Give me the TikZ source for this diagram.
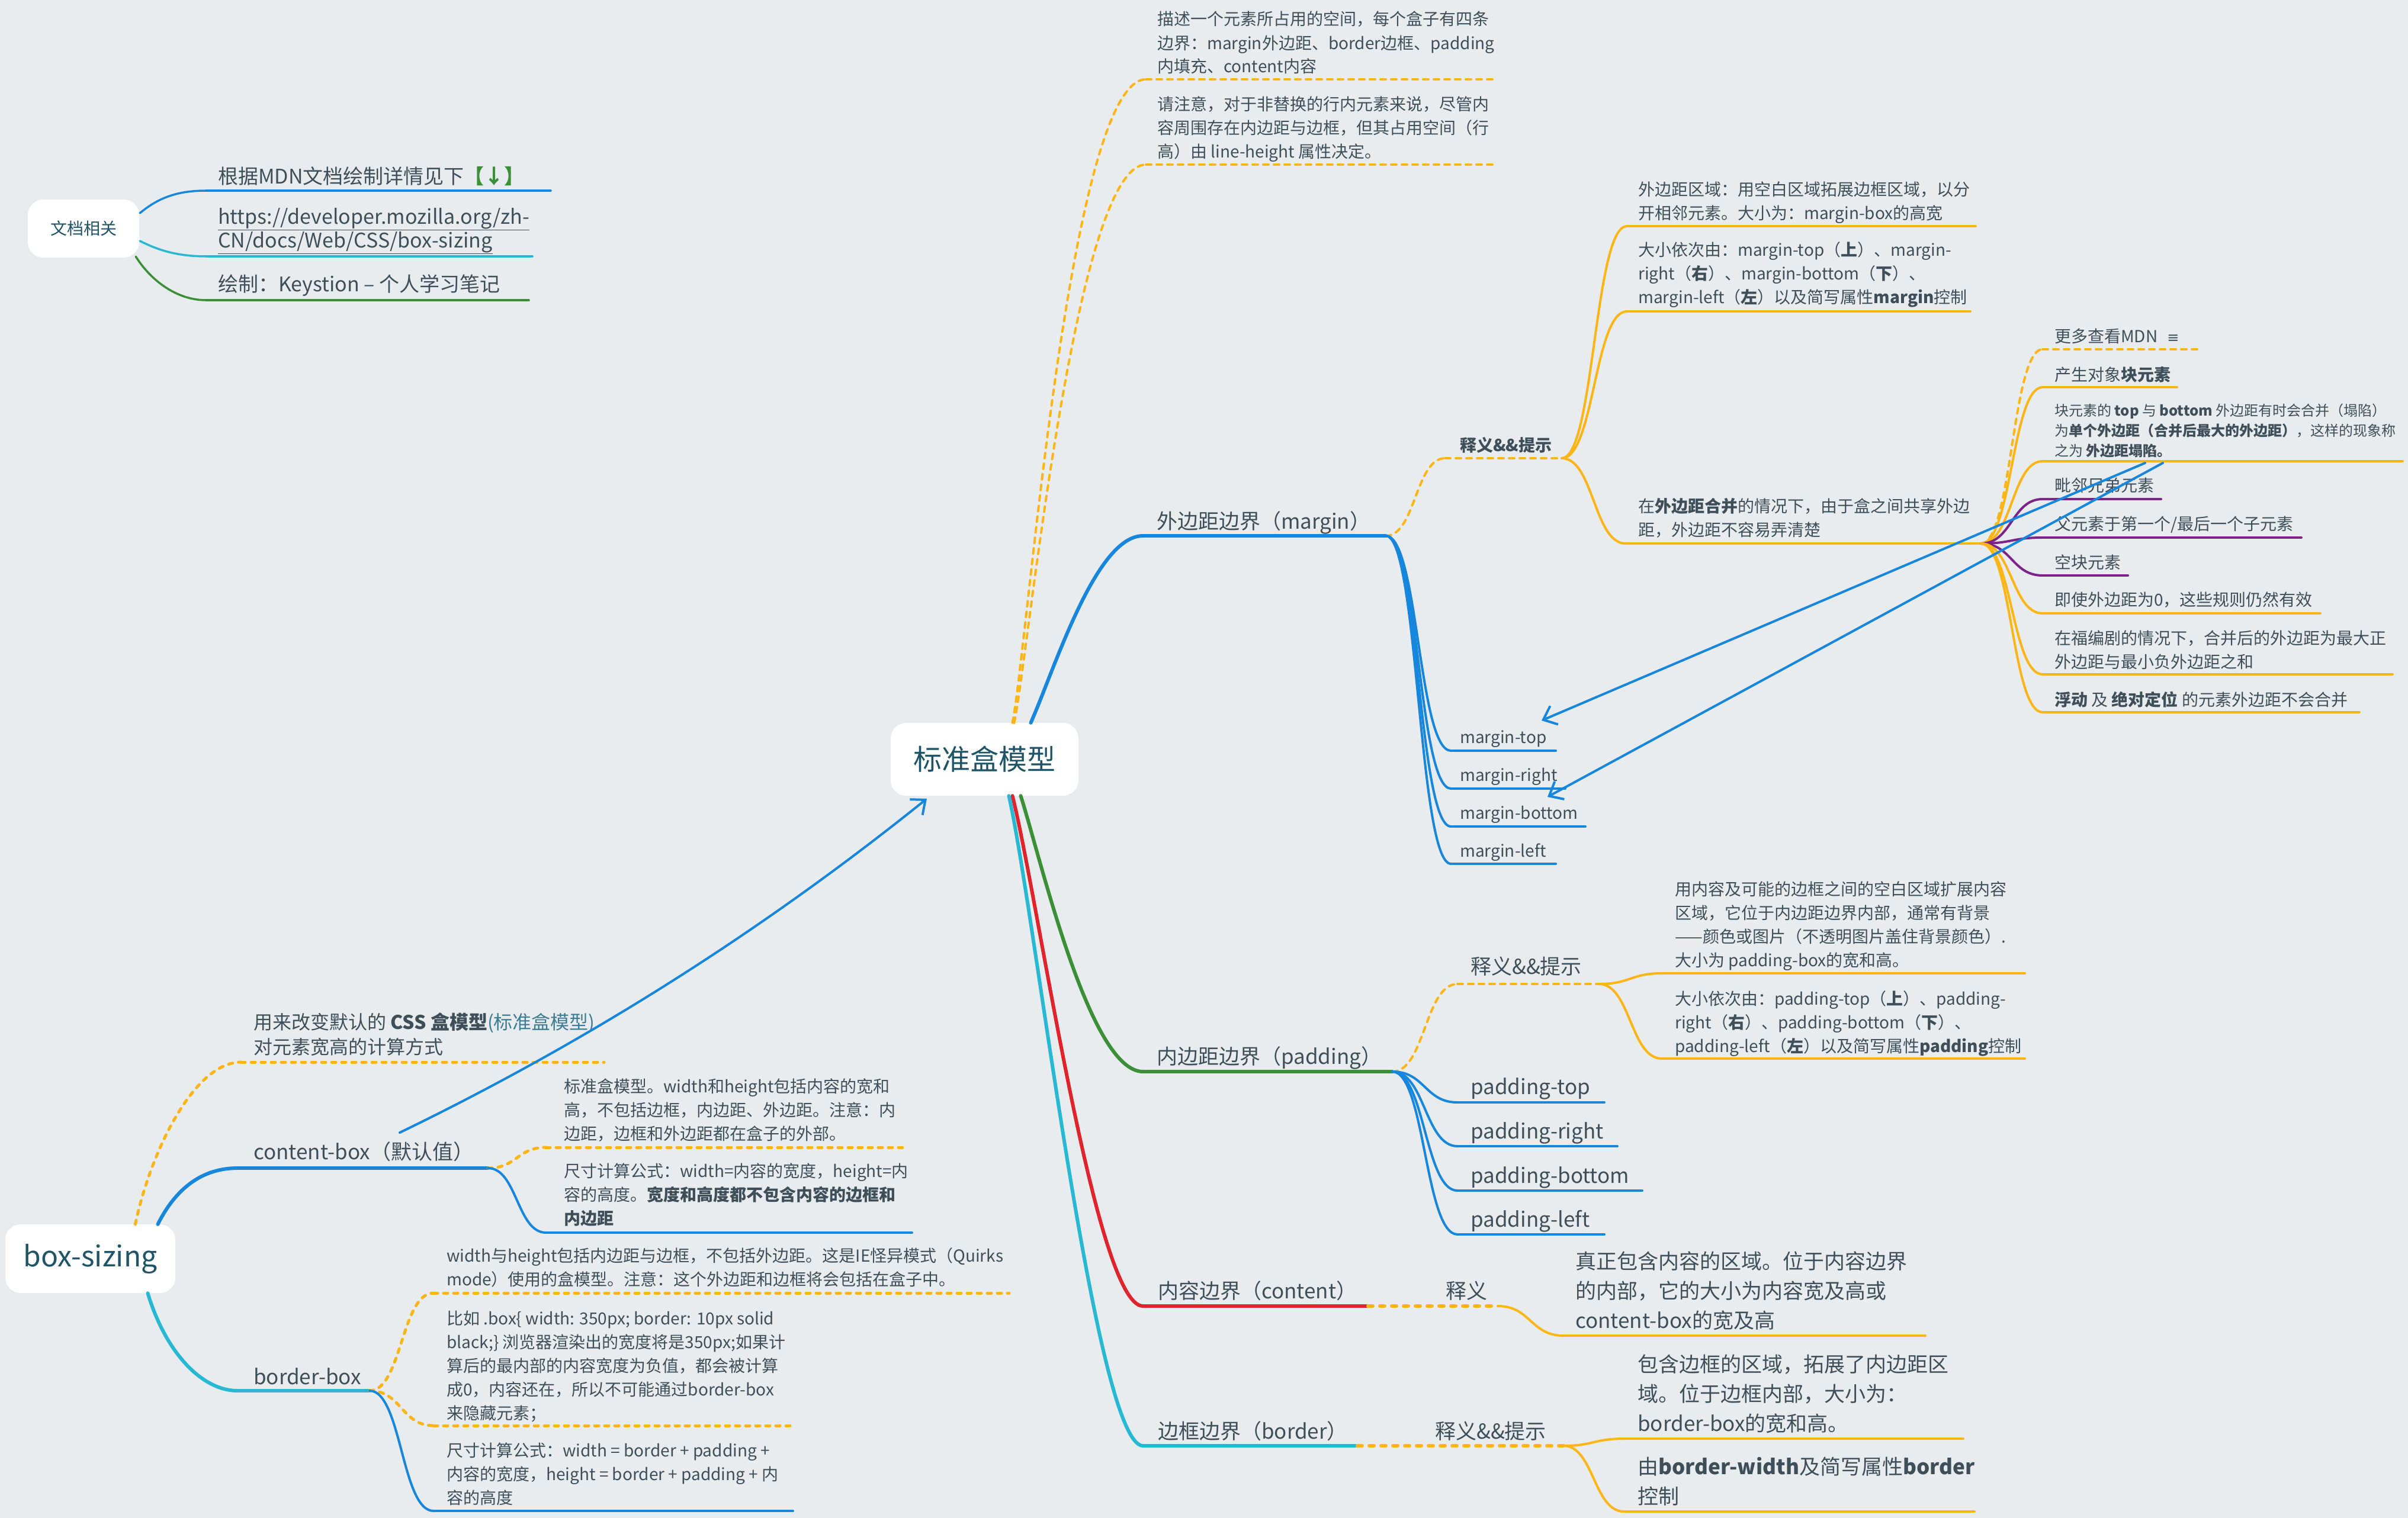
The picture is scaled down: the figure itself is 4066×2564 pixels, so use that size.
\documentclass[tikz,border=0pt]{standalone}
\usepackage{fontspec}
\setmainfont{Noto Sans CJK SC}
\newfontfamily\dejavu{DejaVu Sans}
\usetikzlibrary{arrows.meta,calc}
\definecolor{bgc}{HTML}{E8ECEF}
\definecolor{tc}{HTML}{3F4F5A}
\definecolor{hc}{HTML}{1F5366}
\definecolor{org}{HTML}{FDB515}
\definecolor{blu}{HTML}{1787DD}
\definecolor{cyn}{HTML}{27B9D3}
\definecolor{grn}{HTML}{3A8F37}
\definecolor{rd}{HTML}{E1242B}
\definecolor{pur}{HTML}{7C2488}
\definecolor{lnk}{HTML}{3C7D96}
\newcommand\ml[1]{\begin{tabular}[t]{@{}l@{}}#1\end{tabular}}
\newcommand\sconn[3]{\draw[#1] let \p1=(#2), \p2=(#3) in (\p1) .. controls ({(\x1+\x2)/2},\y1) and ({(\x1+\x2)/2},\y2) .. (\p2);}
\newcommand\bconn[5]{\draw[#1] (#2) .. controls ($(#2)+(#4)$) and ($(#3)+(#5)$) .. (#3);}
\newcommand\tp[8]{%
  \coordinate (#1-s) at (#3,#5);
  \coordinate (#1-e) at (#4,#5);
  \draw[#2] (#1-s) -- (#1-e);
  \node[txt,#6] (#1) at (#7) {#8};
}
\tikzset{
  txt/.style={anchor=base west, inner sep=0pt, text=tc},
  f24/.style={font=\fontsize{24}{34}\selectfont},
  f28/.style={font=\fontsize{28}{40}\selectfont},
  f32/.style={font=\fontsize{32}{42}\selectfont},
  f34/.style={font=\fontsize{34}{40}\selectfont},
  f36/.style={font=\fontsize{35}{50}\selectfont},
  thinA/.style={line width=3.5pt, line cap=round},
  br/.style={line width=6pt, line cap=round},
  sb/.style={line width=4pt, line cap=round},
  dsh/.style={line width=4pt, dash pattern=on 9pt off 9pt, line cap=round},
  dotA/.style={line width=6pt, dash pattern=on 8pt off 12pt, line cap=round},
  dotB/.style={line width=5pt, dash pattern=on 7pt off 10pt, line cap=round},
  rel/.style={line width=4pt, line cap=round, -{Straight Barb[length=20pt,width=34pt]}},
  root/.style={fill=white, rounded corners=26pt, inner sep=0pt, text=hc}
}
\begin{document}
\begin{tikzpicture}[x=1pt,y=-1pt]
\fill[bgc] (0,0) rectangle (4066,2564);
\useasboundingbox (0,0) rectangle (4066,2564);

% root boxes
\node[root, minimum width=317pt, minimum height=123pt, font=\fontsize{48}{48}\selectfont] (c) at (1662.5,1282.5) {标准盒模型};
\node[root, minimum width=287pt, minimum height=116pt, font=\fontsize{48}{48}\selectfont] (bs) at (152.5,2126) {box-sizing};
\node[root, minimum width=188pt, minimum height=98pt, font=\fontsize{28}{28}\selectfont] (wd) at (141,386) {文档相关};
\coordinate (cN1) at ($(c.north)+(47,0)$);
\coordinate (cN2) at ($(c.north)+(50,0)$);
\coordinate (cN3) at ($(c.north)+(78,0)$);
\coordinate (cS1) at ($(c.south)+(61,0)$);
\coordinate (cS2) at ($(c.south)+(47,0)$);
\coordinate (cS3) at ($(c.south)+(41,0)$);
\coordinate (wE1) at ($(wd.east)+(1,-26)$);
\coordinate (wE2) at ($(wd.east)+(1,21)$);
\coordinate (wE3) at ($(wd.south east)+(-6,-2)$);
\coordinate (bN1) at ($(bs.north)+(76,0)$);
\coordinate (bN2) at ($(bs.north)+(114,0)$);
\coordinate (bS1) at ($(bs.south)+(97,0)$);

% 文档相关
\tp{d1}{blu,thinA}{348}{930}{322}{f34}{368,310}{根据MDN文档绘制详情见下\textcolor{grn}{\bfseries【↓】}}
\tp{d2}{cyn,thinA}{348}{899}{433}{f34}{368,378}{\ml{\underline{https://developer.mozilla.org/zh-}\\\underline{CN/docs/Web/CSS/box-sizing}}}
\tp{d3}{grn,thinA}{348}{893}{507}{f34}{368,492}{绘制：Keystion – 个人学习笔记}
\bconn{blu,thinA}{wE1}{d1-s}{30,-25}{-50,0}
\bconn{cyn,thinA}{wE2}{d2-s}{30,15}{-50,0}
\bconn{grn,thinA}{wE3}{d3-s}{25,40}{-50,0}

% top notes
\tp{t1}{org,dsh}{1935}{2522}{134}{f28}{1954,43}{\ml{描述一个元素所占用的空间，每个盒子有四条\\边界：margin外边距、border边框、padding\\内填充、content内容}}
\tp{t2}{org,dsh}{1935}{2522}{278}{f28}{1954,186}{\ml{请注意，对于非替换的行内元素来说，尽管内\\容周围存在内边距与边框，但其占用空间（行\\高）由 line-height 属性决定。}}
\bconn{org,dsh}{cN1}{t1-s}{25,-120}{-130,0}
\bconn{org,dsh}{cN2}{t2-s}{25,-120}{-120,0}

% margin
\tp{m}{blu,br}{1930}{2340}{905}{f36}{1953,893}{外边距边界（margin）}
\bconn{blu,br}{cN3}{m-s}{40,-90}{-80,0}
\tp{msy}{org,dsh}{2440}{2637}{774}{f28}{2465,762}{\textbf{释义\&\&提示}}
\sconn{org,dsh}{m-e}{msy-s}
\tp{m1}{org,sb}{2747}{3336}{382}{f28}{2766,330}{\ml{外边距区域：用空白区域拓展边框区域，以分\\开相邻元素。大小为：margin-box的高宽}}
\tp{m2}{org,sb}{2747}{3327}{526}{f28}{2766,432}{\ml{大小依次由：margin-top（\textbf{上}）、margin-\\right（\textbf{右}）、margin-bottom（\textbf{下}）、\\margin-left（\textbf{左}）以及简写属性\textbf{margin}控制}}
\tp{m3}{org,sb}{2745}{3345}{918}{f28}{2766,865}{\ml{在\textbf{外边距合并}的情况下，由于盒之间共享外边\\距，外边距不容易弄清楚}}
\sconn{org,sb}{msy-e}{m1-s}
\sconn{org,sb}{msy-e}{m2-s}
\sconn{org,sb}{msy-e}{m3-s}
\tp{k1}{org,dsh}{3449}{3710}{590}{f28}{3469,578}{更多查看MDN\hspace{16pt}{\dejavu\fontsize{24}{24}\selectfont ≡}}
\tp{k2}{org,sb}{3449}{3676}{654}{f28}{3469,643}{产生对象\textbf{块元素}}
\tp{k3}{org,sb}{3449}{4057}{779}{f24}{3469,702}{\ml{块元素的 \textbf{top} 与 \textbf{bottom} 外边距有时会合并（塌陷）\\为\textbf{单个外边距（合并后最大的外边距）}，这样的现象称\\之为 \textbf{外边距塌陷。}}}
\tp{k4}{pur,sb}{3449}{3649}{843}{f28}{3469,830}{毗邻兄弟元素}
\tp{k5}{pur,sb}{3449}{3886}{908}{f28}{3469,895}{父元素于第一个/最后一个子元素}
\tp{k6}{pur,sb}{3449}{3593}{972}{f28}{3469,960}{空块元素}
\tp{k7}{org,sb}{3449}{3918}{1036}{f28}{3469,1023}{即使外边距为0，这些规则仍然有效}
\tp{k8}{org,sb}{3449}{4040}{1139}{f28}{3469,1088}{\ml{在福编剧的情况下，合并后的外边距为最大正\\外边距与最小负外边距之和}}
\tp{k9}{org,sb}{3449}{3984}{1203}{f28}{3469,1192}{\textbf{浮动} 及 \textbf{绝对定位} 的元素外边距不会合并}
\sconn{org,dsh}{m3-e}{k1-s}
\sconn{org,sb}{m3-e}{k2-s}
\sconn{org,sb}{m3-e}{k3-s}
\sconn{pur,sb}{m3-e}{k4-s}
\sconn{pur,sb}{m3-e}{k5-s}
\sconn{pur,sb}{m3-e}{k6-s}
\sconn{org,sb}{m3-e}{k7-s}
\sconn{org,sb}{m3-e}{k8-s}
\sconn{org,sb}{m3-e}{k9-s}
\tp{mt}{blu,sb}{2450}{2627}{1268}{f28}{2465,1255}{margin-top}
\tp{mr}{blu,sb}{2450}{2643}{1332}{f28}{2465,1319}{margin-right}
\tp{mb}{blu,sb}{2450}{2677}{1396}{f28}{2465,1383}{margin-bottom}
\tp{mlf}{blu,sb}{2450}{2627}{1459}{f28}{2465,1447}{margin-left}
\sconn{blu,sb}{m-e}{mt-s}
\sconn{blu,sb}{m-e}{mr-s}
\sconn{blu,sb}{m-e}{mb-s}
\sconn{blu,sb}{m-e}{mlf-s}
\coordinate (r1s) at (3622,782);
\coordinate (r2s) at (3652,782);
\coordinate (r1e) at (2603,1217);
\coordinate (r2e) at (2613,1346);
\draw[blu,rel] (r1s) -- (r1e);
\draw[blu,rel] (r2s) -- (r2e);

% padding
\tp{p}{grn,br}{1930}{2351}{1810}{f36}{1953,1797}{内边距边界（padding）}
\bconn{grn,br}{cS1}{p-s}{35,110}{-90,0}
\tp{psy}{org,dsh}{2461}{2700}{1662}{f36}{2483,1645}{释义\&\&提示}
\sconn{org,dsh}{p-e}{psy-s}
\tp{p1}{org,sb}{2806}{3419}{1644}{f28}{2828,1512}{\ml{用内容及可能的边框之间的空白区域扩展内容\\区域，它位于内边距边界内部，通常有背景\\——颜色或图片（不透明图片盖住背景颜色）.\\大小为 padding-box的宽和高。}}
\tp{p2}{org,sb}{2806}{3419}{1788}{f28}{2828,1697}{\ml{大小依次由：padding-top（\textbf{上}）、padding-\\right（\textbf{右}）、padding-bottom（\textbf{下}）、\\padding-left（\textbf{左}）以及简写属性\textbf{padding}控制}}
\sconn{org,sb}{psy-e}{p1-s}
\sconn{org,sb}{psy-e}{p2-s}
\tp{pt}{blu,sb}{2461}{2709}{1862}{f36}{2483,1848}{padding-top}
\tp{pr}{blu,sb}{2461}{2731}{1936}{f36}{2483,1923}{padding-right}
\tp{pb}{blu,sb}{2461}{2773}{2011}{f36}{2483,1998}{padding-bottom}
\tp{plf}{blu,sb}{2461}{2709}{2085}{f36}{2483,2072}{padding-left}
\sconn{blu,sb}{p-e}{pt-s}
\sconn{blu,sb}{p-e}{pr-s}
\sconn{blu,sb}{p-e}{pb-s}
\sconn{blu,sb}{p-e}{plf-s}

% content
\tp{ct}{rd,br}{1930}{2307}{2206}{f36}{1955,2193}{内容边界（content）}
\bconn{rd,br}{cS2}{ct-s}{45,180}{-80,0}
\tp{csy}{org,dotA}{2310}{2529}{2206}{f36}{2441,2193}{释义}
\tp{c1}{org,sb}{2640}{3251}{2256}{f36}{2660,2143}{\ml{真正包含内容的区域。位于内容边界\\的内部，它的大小为内容宽及高或\\content-box的宽及高}}
\sconn{org,sb}{csy-e}{c1-s}

% border
\tp{bd}{cyn,br}{1930}{2289}{2442}{f36}{1955,2430}{边框边界（border）}
\bconn{cyn,br}{cS3}{bd-s}{45,200}{-80,0}
\tp{bsy}{org,dotA}{2292}{2640}{2442}{f36}{2423,2430}{释义\&\&提示}
\tp{b1}{org,sb}{2742}{3315}{2430}{f36}{2765,2317}{\ml{包含边框的区域，拓展了内边距区\\域。位于边框内部，大小为：\\border-box的宽和高。}}
\tp{b2}{org,sb}{2742}{3334}{2553}{f36}{2765,2490}{\ml{由\textbf{border-width}及简写属性\textbf{border}\\控制}}
\sconn{org,sb}{bsy-e}{b1-s}
\sconn{org,sb}{bsy-e}{b2-s}

% left tree
\tp{n1}{org,dotB}{407}{1020}{1794}{f32}{428,1738}{\ml{用来改变默认的 \textbf{CSS 盒模型}\textcolor{lnk}{(标准盒模型)}\\对元素宽高的计算方式}}
\tp{cb}{blu,br}{401}{824}{1973}{f36}{428,1958}{content-box（默认值）}
\tp{bb}{cyn,br}{401}{624}{2349}{f36}{428,2338}{border-box}
\bconn{org,dotB}{bN1}{n1-s}{25,-120}{-80,0}
\bconn{blu,br}{bN2}{cb-s}{30,-60}{-60,0}
\bconn{cyn,br}{bS1}{bb-s}{30,100}{-60,0}
\tp{cb1}{org,dotB}{922}{1524}{1938}{f28}{952,1845}{\ml{标准盒模型。width和height包括内容的宽和\\高，不包括边框，内边距、外边距。注意：内\\边距，边框和外边距都在盒子的外部。}}
\tp{cb2}{blu,sb}{922}{1540}{2082}{f28}{952,1988}{\ml{尺寸计算公式：width=内容的宽度，height=内\\容的高度。\textbf{宽度和高度都不包含内容的边框和}\\\textbf{内边距}}}
\sconn{org,dotB}{cb-e}{cb1-s}
\sconn{blu,sb}{cb-e}{cb2-s}
\tp{bb1}{org,dotB}{732}{1704}{2184}{f28}{754,2131}{\ml{width与height包括内边距与边框，不包括外边距。这是IE怪异模式（Quirks\\mode）使用的盒模型。注意：这个外边距和边框将会包括在盒子中。}}
\tp{bb2}{org,dotB}{732}{1334}{2408}{f28}{754,2237}{\ml{比如 .box\{ width: 350px; border: 10px solid\\black;\} 浏览器渲染出的宽度将是350px;如果计\\算后的最内部的内容宽度为负值，都会被计算\\成0，内容还在，所以不可能通过border-box\\来隐藏元素；}}
\tp{bb3}{blu,sb}{732}{1339}{2552}{f28}{754,2460}{\ml{尺寸计算公式：width = border + padding +\\内容的宽度，height = border + padding + 内\\容的高度}}
\sconn{org,dotB}{bb-e}{bb1-s}
\sconn{org,dotB}{bb-e}{bb2-s}
\sconn{blu,sb}{bb-e}{bb3-s}
\coordinate (r3s) at (675,1913);
\coordinate (r3e) at (1565,1349);
\draw[blu,rel] (r3s) .. controls (993,1759) and (1289,1571) .. (r3e);
\end{tikzpicture}
\end{document}
